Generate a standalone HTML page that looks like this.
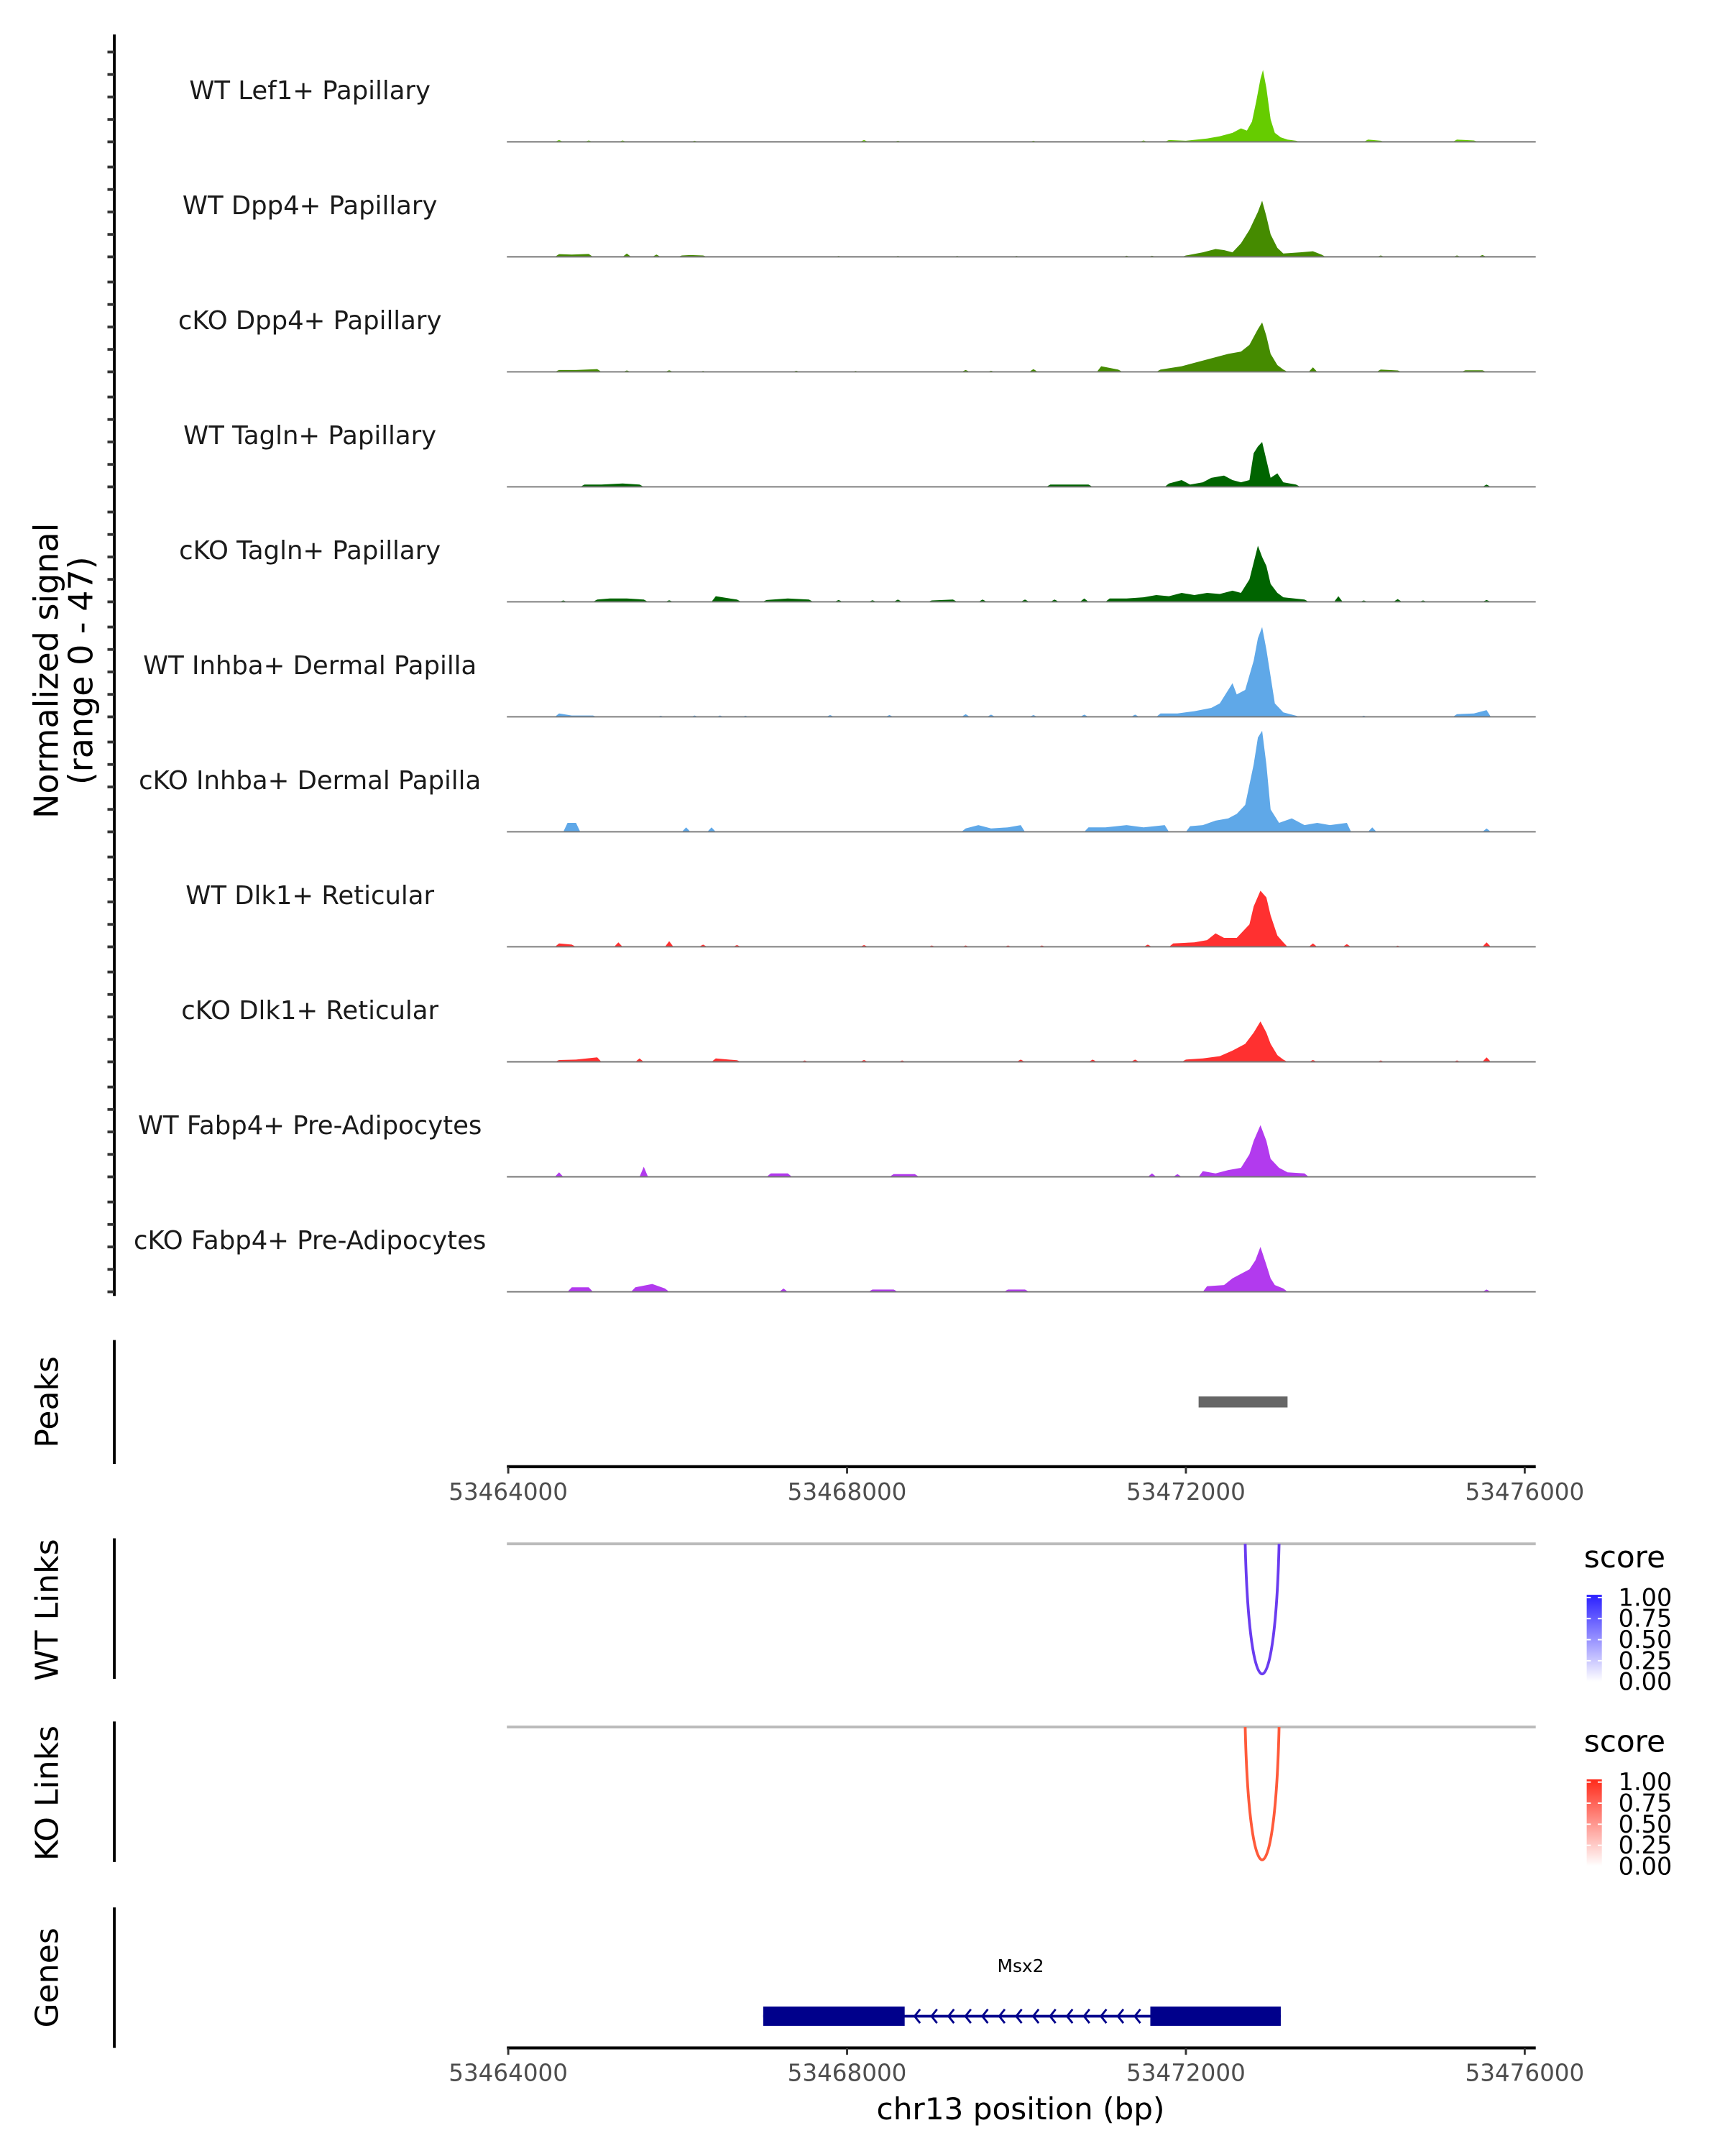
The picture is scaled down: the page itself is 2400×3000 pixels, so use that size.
<!DOCTYPE html>
<html><head><meta charset="utf-8"><style>
html,body{margin:0;padding:0;background:#fff;}
svg{display:block;font-family:"DejaVu Sans","Liberation Sans",sans-serif;}
</style></head><body>
<svg id="chart" width="2400" height="3000" viewBox="0 0 1252.4 1565.5" xmlns="http://www.w3.org/2000/svg">
<g id="tracks"></g>
<g id="lower"></g>
</svg>
<script>
const trackNames = ["WT Lef1+ Papillary","WT Dpp4+ Papillary","cKO Dpp4+ Papillary","WT Tagln+ Papillary","cKO Tagln+ Papillary","WT Inhba+ Dermal Papilla","cKO Inhba+ Dermal Papilla","WT Dlk1+ Reticular","cKO Dlk1+ Reticular","WT Fabp4+ Pre-Adipocytes","cKO Fabp4+ Pre-Adipocytes"];
const trackColors = ["#66cc00","#458b00","#458b00","#006400","#006400","#5fa8e8","#5fa8e8","#ff3030","#ff3030","#b23aee","#b23aee"];
// signal points: [kb offset from 53464000, normalized signal]
const sigLef1WT = [[0.6,0.8],[0.95,0.6],[1.35,0.6],[2.2,0.5],[4.2,0.8],[4.6,0.5],[6.2,0.5],[7.5,0.6],[7.8,0.8],[8.0,0.5],[8.25,1.5],[8.4,2.5],[8.55,4],[8.65,6],[8.72,5],[8.78,9],[8.83,18],[8.88,28],[8.91,32],[8.95,24],[9.0,10],[9.05,4],[9.12,2],[9.2,1],[9.3,0.5],[10.15,1],[10.3,0.5],[11.2,1],[11.4,0.6]];
const sigDpp4WT = [[0.6,1.2],[0.75,1],[0.95,1.3],[1.4,1.5],[1.75,1],[2.05,0.6],[2.15,0.8],[2.3,0.6],[3.9,0.4],[4.6,0.4],[5.3,0.4],[6.0,0.4],[7.3,0.5],[7.6,0.5],[8.0,0.6],[8.2,2],[8.35,3.5],[8.45,3],[8.55,2],[8.65,6],[8.75,12],[8.85,20],[8.9,25],[8.95,18],[9.0,10],[9.08,4],[9.15,1.5],[9.35,2],[9.5,2.5],[9.6,1],[10.3,0.6],[11.2,0.6],[11.5,0.8]];
const sigDpp4KO = [[0.6,0.8],[0.8,0.8],[1.05,1.2],[1.4,0.6],[1.9,0.7],[2.3,0.4],[3.4,0.5],[4.1,0.4],[5.4,0.8],[5.7,0.5],[6.2,1.2],[7.0,2.5],[7.2,1],[7.7,1],[7.95,2.5],[8.1,4],[8.3,6],[8.5,8],[8.65,9],[8.75,12],[8.85,19],[8.9,22],[8.95,16],[9.0,8],[9.08,3],[9.15,1],[9.5,2],[10.3,1],[10.5,0.6],[11.3,0.7],[11.5,0.7]];
const sigTaglnWT = [[0.9,1],[1.1,1],[1.35,1.5],[1.55,1],[6.4,1],[6.6,1],[6.85,1],[7.8,1.5],[7.95,3],[8.05,1],[8.2,2],[8.3,4],[8.45,5],[8.55,3],[8.65,2],[8.75,3],[8.8,15],[8.85,18],[8.9,20],[8.95,12],[9.0,4],[9.08,6],[9.15,2],[9.3,1],[11.55,1]];
const sigTaglnKO = [[0.65,0.6],[1.05,1],[1.2,1.5],[1.4,1.5],[1.6,1],[1.9,0.7],[2.45,2.5],[2.7,1],[3.05,0.8],[3.3,1.5],[3.55,1],[3.9,0.8],[4.3,0.7],[4.6,1],[5.0,0.6],[5.25,1],[5.6,1],[6.1,1],[6.45,1],[6.8,1.5],[7.1,1.5],[7.3,1.5],[7.5,2],[7.65,3],[7.8,2.5],[7.95,4],[8.1,3],[8.25,4],[8.4,3.5],[8.55,5],[8.65,4],[8.75,10],[8.85,25],[8.9,20],[8.95,16],[9.0,8],[9.08,4],[9.15,2],[9.4,1],[9.8,2.5],[10.1,0.6],[10.5,1.2],[10.8,0.6],[11.55,0.8]];
const sigInhbaWT = [[0.6,1.5],[0.75,0.6],[1.0,0.6],[1.8,0.5],[2.2,0.6],[2.5,0.6],[2.8,0.5],[3.8,0.8],[4.5,0.8],[5.4,1.2],[5.7,1],[6.2,0.8],[6.8,1],[7.4,1],[7.7,1.5],[7.9,1.5],[8.1,2.5],[8.3,4],[8.4,6],[8.5,12],[8.55,15],[8.6,10],[8.7,12],[8.8,25],[8.85,35],[8.9,40],[8.95,30],[9.0,18],[9.05,6],[9.15,2],[9.3,0.5],[10.1,0.5],[11.2,1.2],[11.4,1.5],[11.55,3]];
const sigInhbaKO = [[0.7,4],[0.8,4],[2.1,2],[2.4,2],[5.4,1.5],[5.55,3],[5.7,1.5],[5.9,2],[6.05,3],[6.85,2],[7.05,2],[7.3,3],[7.5,2],[7.75,3],[8.05,2.5],[8.2,3],[8.35,5],[8.5,6],[8.6,8],[8.7,12],[8.8,30],[8.85,42],[8.9,45],[8.95,30],[9.0,10],[9.1,4],[9.25,6],[9.4,3],[9.55,4],[9.7,3],[9.9,4],[10.2,2],[11.55,1.5]];
const sigDlk1WT = [[0.6,1.5],[0.75,1],[1.3,2],[1.9,2.5],[2.3,1],[2.7,0.8],[4.2,0.8],[5.0,0.6],[5.4,0.6],[5.9,0.6],[6.3,0.6],[7.55,1],[7.85,1.5],[8.1,2],[8.25,3],[8.35,6],[8.45,4],[8.6,4],[8.75,10],[8.8,18],[8.88,25],[8.95,22],[9.0,14],[9.08,5],[9.15,2],[9.5,1.5],[9.9,1.2],[10.5,0.5],[11.55,2]];
const sigDlk1KO = [[0.6,0.8],[0.8,1],[1.05,2],[1.55,1.5],[2.45,1.5],[2.7,0.7],[3.5,0.6],[4.2,0.8],[4.65,0.6],[6.05,1],[6.9,1],[7.4,1],[8.0,1],[8.2,1.5],[8.4,2.5],[8.55,5],[8.7,8],[8.8,13],[8.88,18],[8.95,13],[9.0,8],[9.08,3],[9.15,1],[9.5,0.8],[10.3,0.6],[11.2,0.6],[11.55,2]];
const sigFabp4WT = [[0.6,2],[1.6,4.5],[3.1,1.5],[3.3,1.5],[4.55,1.2],[4.8,1.2],[7.6,1.5],[7.9,1.2],[8.2,2.5],[8.35,1.5],[8.5,3],[8.65,4],[8.75,10],[8.8,16],[8.88,23],[8.95,16],[9.0,8],[9.1,4],[9.2,2],[9.4,1.5]];
const sigFabp4KO = [[0.75,2],[0.95,2],[1.5,2],[1.7,3.5],[1.85,1.5],[3.25,1.5],[4.3,1],[4.55,1],[5.9,1],[6.1,1],[8.25,2.5],[8.45,3],[8.55,6],[8.65,8],[8.75,10],[8.82,14],[8.88,20],[8.95,12],[9.0,6],[9.05,3],[9.15,1.5],[11.55,1]];
const signals = [sigLef1WT,sigDpp4WT,sigDpp4KO,sigTaglnWT,sigTaglnKO,sigInhbaWT,sigInhbaKO,sigDlk1WT,sigDlk1KO,sigFabp4WT,sigFabp4KO];
const yMax = 47;
const xTicks = [53464000,53468000,53472000,53476000];
const peakRegions = [[53472150,53473200]];
const wtLinks = [[53472700,53473100,1.0]];
const koLinks = [[53472700,53473100,1.0]];
const geneExonsThick = [[53467010,53468680],[53471580,53473120]];
const geneSpan = [53467010,53473120];
const legendTicks = ["1.00","0.75","0.50","0.25","0.00"];

const NS="http://www.w3.org/2000/svg";
function el(tag, attrs, parent, text){const e=document.createElementNS(NS,tag);for(const k in attrs)e.setAttribute(k,attrs[k]);if(text!==undefined)e.textContent=text;parent.appendChild(e);return e;}
const X0=368, X1=1115, G0=53464000;
function xScale(bp){return 369 + (bp-G0)*0.0615;}
function xKb(kb){return xScale(G0+kb*1000);}
const pxPerUnit=1.63;
const trackBase = i => 103 + i*83.5;
const T=document.getElementById('tracks'), L=document.getElementById('lower');

let ax=el('line',{x1:83,y1:25,x2:83,y2:941,stroke:'#000','stroke-width':2},T);


for(let i=0;i<signals.length;i++){
  const b=trackBase(i);
  for(let k=0;k<5;k++){
    const t=el('line',{x1:78,y1:b-k*10*pxPerUnit,x2:83,y2:b-k*10*pxPerUnit,stroke:'#333','stroke-width':2},T);
    
    
  }
  const lb=el('text',{x:225,y:b-31,'text-anchor':'middle','font-size':18.5,fill:'#1a1a1a'},T,trackNames[i]);
  
  
  const pts=signals[i]; let d='M'+xKb(pts[0][0]-0.05)+','+b; let prev=null;
  for(const p of pts){
    if(prev && p[0]-prev[0]>0.25){d+=' L'+xKb(prev[0]+0.05)+','+b+' L'+xKb(p[0]-0.05)+','+b;}
    d+=' L'+xKb(p[0])+','+(b-p[1]*pxPerUnit); prev=p;
  }
  d+=' L'+xKb(prev[0]+0.05)+','+b+' Z';
  const ar=el('path',{d:d,fill:trackColors[i],stroke:'none'},T);
  
  
  const bl=el('line',{x1:X0,y1:b,x2:X1,y2:b,stroke:'#777','stroke-width':1},T);
  
  
}
const yt=el('text',{transform:'translate(42,487) rotate(-90)','text-anchor':'middle','font-size':24,fill:'#000'},T);


el('tspan',{x:0,dy:0},yt,'Normalized signal');
el('tspan',{x:0,dy:25},yt,'(range 0 - 47)');

function sideTitle(txt,cy,name){const t=el('text',{transform:'translate(42,'+cy+') rotate(-90)','text-anchor':'middle','font-size':23,fill:'#000'},L,txt);
 
 }
function sideAxis(y1,y2,name){const a=el('line',{x1:83,y1:y1,x2:83,y2:y2,stroke:'#000','stroke-width':2},L);
 
 }
function xAxis(y,name){
  const g=el('g',{},L);
  
  
  el('line',{x1:X0,y1:y,x2:X1,y2:y,stroke:'#000','stroke-width':2.2},g);
  for(const t of xTicks){const x=xScale(t);
    el('line',{x1:x,y1:y,x2:x,y2:y+5,stroke:'#333','stroke-width':1.5},g);
    const tl=el('text',{x:x,y:y+24,'text-anchor':'middle','font-size':17,fill:'#4d4d4d'},g,String(t));
    
    }
}
sideAxis(973,1063,'peaks-axis'); sideTitle('Peaks',1018,'peaks-title');
for(const p of peakRegions){const r=el('rect',{x:xScale(p[0]),y:1014,width:xScale(p[1])-xScale(p[0]),height:8,fill:'#666'},L);
 
 }
xAxis(1065,'peaks-x-axis');

function links(top,bottom,arr,color,lgTop,lgColor,name,title){
  sideAxis(top-4,top+98,name+'-axis'); sideTitle(title,top+48,name+'-title');
  const gl=el('line',{x1:X0,y1:top,x2:X1,y2:top,stroke:'#bbb','stroke-width':2},L);
  
  
  for(const a of arr){const x1=xScale(a[0]),x2=xScale(a[1]);const cy=top+(bottom-top)*1.34*a[2];
    const p=el('path',{d:`M${x1},${top} C${x1+3},${cy} ${x2-3},${cy} ${x2},${top}`,fill:'none',stroke:color,'stroke-width':2},L);
    
    }
  const lg=el('g',{},L);
  
  
  el('text',{x:1150,y:lgTop,'font-size':22,fill:'#000'},lg,'score');
  const gid='grad'+name;const defs=el('defs',{},lg);const gr=el('linearGradient',{id:gid,x1:0,y1:0,x2:0,y2:1},defs);
  el('stop',{offset:'0',"stop-color":lgColor},gr);el('stop',{offset:'1',"stop-color":'#ffffff'},gr);
  el('rect',{x:1152,y:lgTop+20,width:11,height:63,fill:`url(#${gid})`},lg);
  legendTicks.forEach((t,k)=>{const yy=lgTop+22+k*15.3;
    el('line',{x1:1152,y1:yy,x2:1155,y2:yy,stroke:'#fff','stroke-width':1},lg);
    el('line',{x1:1160,y1:yy,x2:1163,y2:yy,stroke:'#fff','stroke-width':1},lg);
    el('text',{x:1175,y:yy+6,'font-size':17.5,fill:'#000'},lg,t);});
}
links(1121,1215,wtLinks,'#6a3cf0',1138,'#2a1fff','wt-links','WT Links');
links(1254,1350,koLinks,'#ff5a3a',1272,'#ff2a1a','ko-links','KO Links');

sideAxis(1385,1487,'genes-axis'); sideTitle('Genes',1436,'genes-title');
const gg=el('g',{},L);


el('text',{x:741,y:1432,'text-anchor':'middle','font-size':13,fill:'#000'},gg,'Msx2');
el('line',{x1:xScale(geneSpan[0]),y1:1464,x2:xScale(geneSpan[1]),y2:1464,stroke:'#00008b','stroke-width':2},gg);
for(const e of geneExonsThick){el('rect',{x:xScale(e[0]),y:1457,width:xScale(e[1])-xScale(e[0]),height:14,fill:'#00008b'},gg);}
for(let k=0;k<14;k++){const x=664+k*12.3;el('path',{d:`M${x+4},1459 L${x},1464 L${x+4},1469`,fill:'none',stroke:'#00008b','stroke-width':1.5},gg);}
xAxis(1487,'genes-x-axis');
const xt=el('text',{x:741,y:1539,'text-anchor':'middle','font-size':22,fill:'#000'},L,'chr13 position (bp)');


</script>
</body></html>
